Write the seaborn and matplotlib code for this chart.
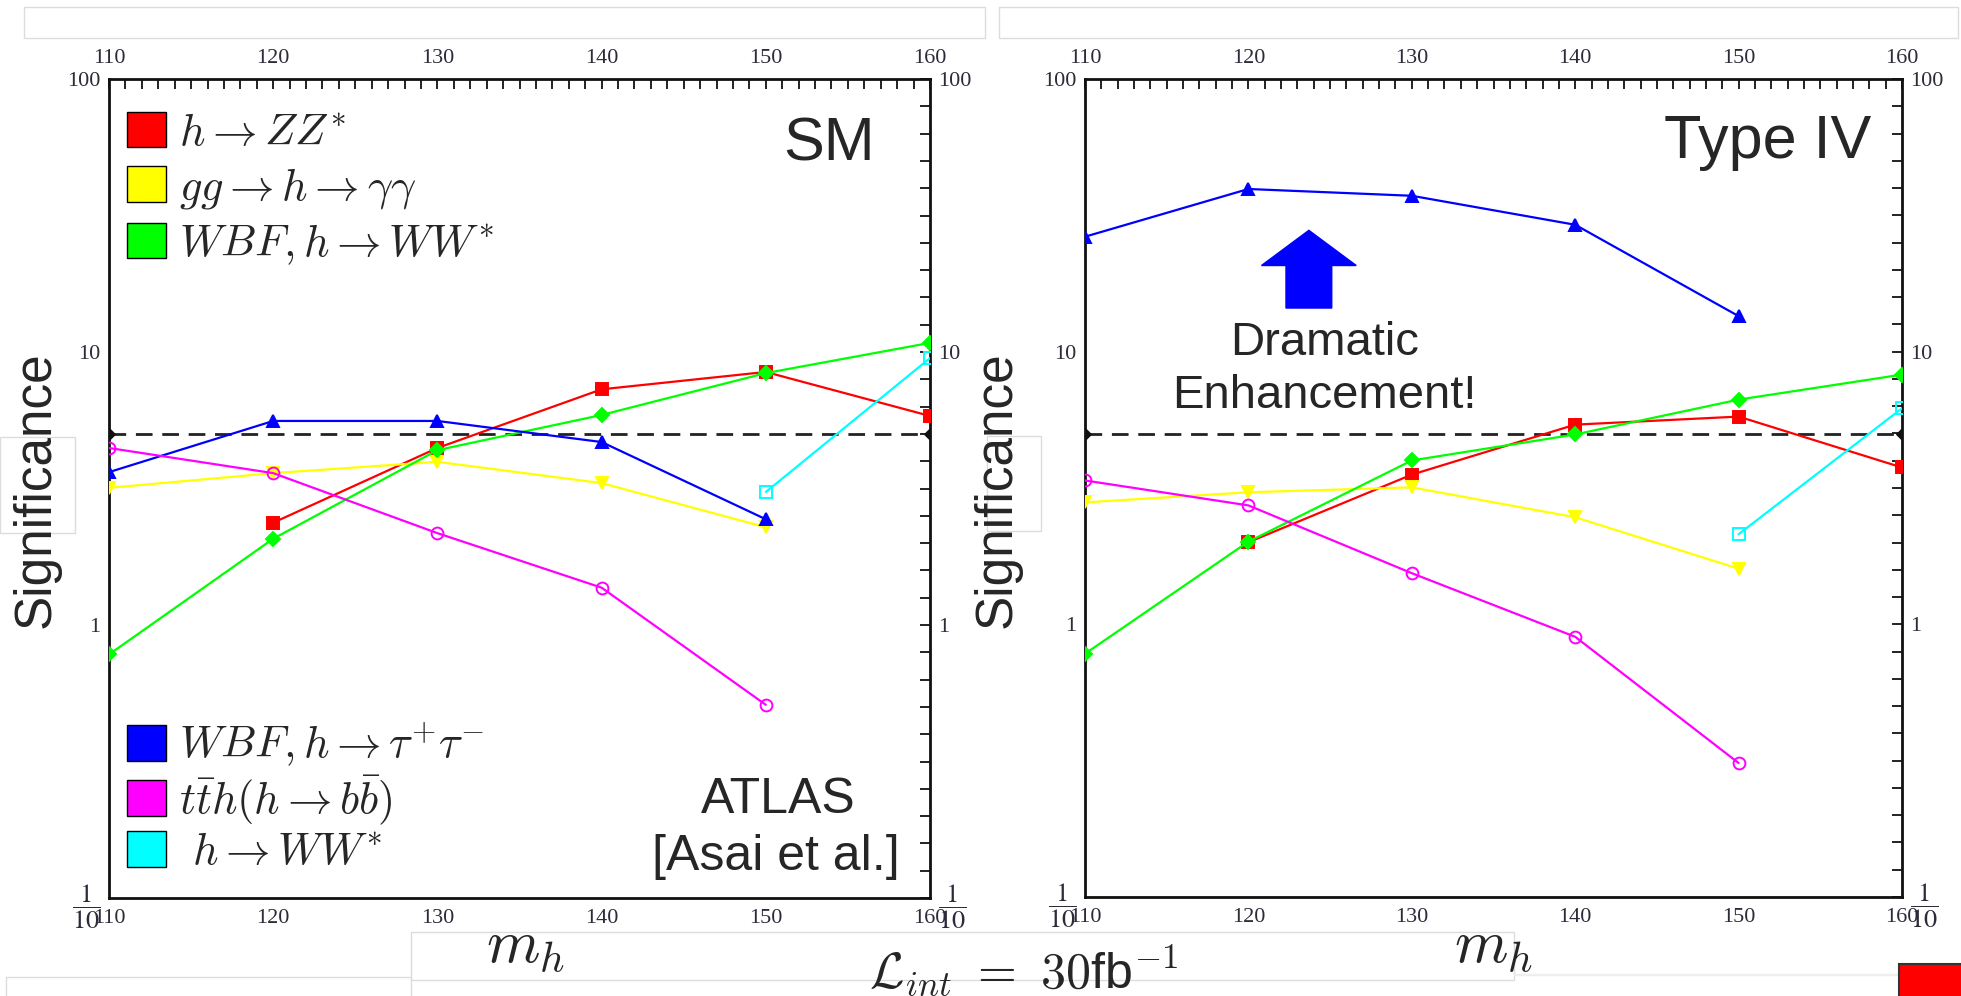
import numpy as np
import pandas as pd
import seaborn as sns
import matplotlib.pyplot as plt
from matplotlib.patches import Patch, Rectangle, FancyArrow
from matplotlib.ticker import FixedLocator, MultipleLocator, NullFormatter

# --- данные ---
mh_full = [110, 120, 130, 140, 150, 160]

# SM
sm_zz_mh = [120, 130, 140, 150, 160]
sm_zz = [2.37, 4.45, 7.3, 8.45, 5.83]
sm_gg_mh = [110, 120, 130, 140, 150]
sm_gg = [3.18, 3.6, 3.96, 3.31, 2.28]
sm_wbfww_mh = mh_full
sm_wbfww = [0.78, 2.07, 4.37, 5.88, 8.37, 10.8]
sm_tau_mh = [110, 120, 130, 140, 150]
sm_tau = [3.63, 5.59, 5.59, 4.68, 2.44]
sm_tth_mh = [110, 120, 130, 140, 150]
sm_tth = [4.45, 3.6, 2.17, 1.37, 0.51]
sm_ww_mh = [150, 160]
sm_ww = [3.07, 9.5]

# Type IV
t4_zz_mh = [120, 130, 140, 150, 160]
t4_zz = [2.0, 3.54, 5.4, 5.78, 3.76]
t4_gg_mh = [110, 120, 130, 140, 150]
t4_gg = [2.8, 3.05, 3.18, 2.47, 1.6]
t4_wbfww_mh = mh_full
t4_wbfww = [0.78, 2.01, 3.99, 4.97, 6.67, 8.24]
t4_tau_mh = [110, 120, 130, 140, 150]
t4_tau = [26.4, 39.5, 37.3, 29.2, 13.5]
t4_tth_mh = [110, 120, 130, 140, 150]
t4_tth = [3.37, 2.73, 1.54, 0.90, 0.31]
t4_ww_mh = [150, 160]
t4_ww = [2.14, 6.2]

disc_mh = [110, 160]
disc_level = [5, 5]

labels = [r'$h \rightarrow ZZ^{*}$',
          r'$gg \rightarrow h \rightarrow \gamma\gamma$',
          r'$WBF, h \rightarrow WW^{*}$',
          r'$WBF, h \rightarrow \tau^{+}\tau^{-}$',
          r'$t\bar{t}h(h \rightarrow b\bar{b})$',
          r'$\ h \rightarrow WW^{*}$']
colors = ['#ff0000', '#ffff00', '#00ff00', '#0000ff', '#ff00ff', '#00ffff']
markers = ['s', 'v', 'D', '^', 'o', 's']
filled = [True, True, True, True, False, False]

y_ticks = [0.1, 1, 10, 100]
y_ticklabels = [r'$\dfrac{1}{10}$', '1', '10', '100']
x_ticks = [110, 120, 130, 140, 150, 160]

sns.set_theme(style="white")
plt.rcParams['font.family'] = ['Liberation Sans', 'DejaVu Sans']
plt.rcParams['mathtext.fontset'] = 'cm'

W, H = 1961, 996
fig = plt.figure(figsize=(W / 100, H / 100), dpi=100)
fig.patch.set_facecolor('white')


def px_axes(x0, y0, x1, y1):
    return fig.add_axes([x0 / W, 1 - y1 / H, (x1 - x0) / W, (y1 - y0) / H])


def px_box(x0, y0, x1, y1, ec='#dcdcdc', fc='none', lw=1.0):
    fig.add_artist(Rectangle((x0 / W, 1 - y1 / H), (x1 - x0) / W, (y1 - y0) / H,
                             transform=fig.transFigure, facecolor=fc,
                             edgecolor=ec, lw=lw, zorder=0))


def draw_panel(ax, series):
    for (xs, ys), c, m, f in zip(series, colors, markers, filled):
        sns.lineplot(x=xs, y=ys, ax=ax, color=c, lw=1.6, marker=m,
                     markersize=8.5 if m != 'D' else 7,
                     markerfacecolor=c if f else 'none',
                     markeredgecolor=c, markeredgewidth=1.4,
                     estimator=None, sort=False, zorder=3)
    sns.lineplot(x=disc_mh, y=disc_level, ax=ax, color='#222222', lw=2,
                 linestyle=(0, (6, 3.5)), marker='D', markersize=6.5,
                 markerfacecolor='#111111', markeredgecolor='#111111',
                 estimator=None, zorder=2)
    ax.set_yscale('log')
    ax.set_xlim(110, 160)
    ax.set_ylim(0.1, 100)
    ax.set_xlabel('')
    ax.set_ylabel('')
    ax.xaxis.set_major_locator(FixedLocator(x_ticks))
    ax.xaxis.set_minor_locator(MultipleLocator(1))
    ax.yaxis.set_major_locator(FixedLocator(y_ticks))
    ax.yaxis.set_minor_locator(FixedLocator(10 ** (np.arange(-10, 21) / 10)))
    ax.yaxis.set_minor_formatter(NullFormatter())
    ax.set_xticklabels([str(t) for t in x_ticks])
    ax.set_yticklabels(y_ticklabels)
    ax.tick_params(which='both', direction='in', top=True, right=True,
                   labeltop=True, labelright=True, length=7, width=1.4,
                   color='#222222', labelsize=16, labelcolor='#2b2b3a')
    ax.tick_params(axis='x', pad=8)
    ax.tick_params(axis='y', pad=6)
    for lbl in ax.get_xticklabels() + ax.get_yticklabels():
        lbl.set_fontfamily(['Liberation Serif', 'DejaVu Serif'])
        lbl.set_math_fontfamily('stix')
    for tk in ax.yaxis.get_major_ticks()[:1]:
        tk.label1.set_fontsize(19)
        tk.label2.set_fontsize(19)
    for s in ax.spines.values():
        s.set_color('#111111')
        s.set_linewidth(2)
    ax.set_facecolor('white')


# faint empty boxes from the original slide
px_box(24, 7, 985, 38)
px_box(999, 7, 1958, 38)
px_box(116, 97, 386, 351)
px_box(0, 437, 75, 533)
px_box(987, 436, 1041, 531)
px_box(411, 932, 1514, 980)
px_box(6, 977, 411, 1000)
px_box(1514, 974, 1899, 975, ec='#eeeeee')
px_box(1899, 964, 1975, 1010, ec='#333333', fc='#ff0000', lw=1.5)

# --- левая панель: SM ---
ax1 = px_axes(109, 79, 930, 898)
draw_panel(ax1, [(sm_zz_mh, sm_zz), (sm_gg_mh, sm_gg), (sm_wbfww_mh, sm_wbfww),
                 (sm_tau_mh, sm_tau), (sm_tth_mh, sm_tth), (sm_ww_mh, sm_ww)])

handles = [Patch(facecolor=c, edgecolor='black', lw=1) for c in colors]
leg_kw = dict(frameon=False, prop=dict(size=32), handlelength=0.88,
              handleheight=0.86, handletextpad=0.28,
              borderpad=0, borderaxespad=0)
leg1 = ax1.legend(handles[:3], labels[:3], loc='upper left',
                  bbox_to_anchor=(0.022, 0.96), labelspacing=0.26, **leg_kw)
ax1.add_artist(leg1)
ax1.legend(handles[3:], labels[3:], loc='lower left',
           bbox_to_anchor=(0.022, 0.03), labelspacing=0.1, **leg_kw)

ax1.text(0.933, 0.901, 'SM', transform=ax1.transAxes, ha='right',
         va='baseline', fontsize=44)
ax1.text(0.815, 0.104, 'ATLAS', transform=ax1.transAxes, ha='center',
         va='baseline', fontsize=36)
ax1.text(0.812, 0.034, '[Asai et al.]', transform=ax1.transAxes, ha='center',
         va='baseline', fontsize=36)

# --- правая панель: Type IV ---
ax2 = px_axes(1085, 79, 1902, 897)
draw_panel(ax2, [(t4_zz_mh, t4_zz), (t4_gg_mh, t4_gg), (t4_wbfww_mh, t4_wbfww),
                 (t4_tau_mh, t4_tau), (t4_tth_mh, t4_tth), (t4_ww_mh, t4_ww)])
px_box(1102, 627, 1372, 881)

ax2.text(0.962, 0.903, 'Type IV', transform=ax2.transAxes, ha='right',
         va='baseline', fontsize=44)
ax2.text(0.293, 0.6626, 'Dramatic', transform=ax2.transAxes, ha='center',
         va='baseline', fontsize=34)
ax2.text(0.293, 0.5978, 'Enhancement!', transform=ax2.transAxes, ha='center',
         va='baseline', fontsize=34)
ax2.add_patch(FancyArrow(0.274, 0.72, 0, 0.095, width=0.056, head_width=0.116,
                         head_length=0.043, length_includes_head=True,
                         color='#0000ff', transform=ax2.transAxes, zorder=4))

# --- подписи осей ---
for xc in (36, 997):
    fig.text(xc / W, 1 - 490 / H, 'Significance', rotation=90, ha='center',
             va='center', fontsize=37)
for xc in (526, 1494):
    fig.text(xc / W, 1 - 962 / H, r'$m_h$', ha='center', va='baseline',
             fontsize=44)
fig.text(869 / W, 1 - 988 / H, r'$\mathcal{L}_{int}\ =\ 30$fb$^{-1}$',
         ha='left', va='baseline', fontsize=36)

fig.savefig('out.png', dpi=100, facecolor='white')
